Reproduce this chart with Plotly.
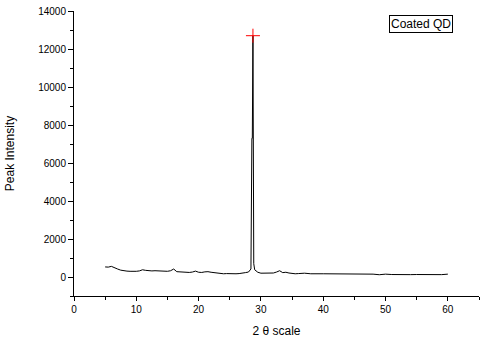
import plotly.graph_objects as go

two_theta = [5.0, 5.5, 6.0, 6.5, 7.0, 7.5, 8.0, 8.5, 9.0, 9.5, 10.0, 10.5, 11.0, 11.5, 12.0,
             12.5, 13.0, 13.5, 14.0, 14.5, 15.0, 15.5, 16.0, 16.5, 17.0, 17.5, 18.0, 18.5,
             19.0, 19.5, 20.0, 20.5, 21.0, 21.5, 22.0, 22.5, 23.0, 23.5, 24.0, 24.5, 25.0,
             25.5, 26.0, 26.5, 27.0, 27.5, 28.0, 28.4, 28.55, 28.62, 28.72, 28.85, 29.0, 29.5,
             30.0, 30.5, 31.0, 31.5, 32.0, 32.5, 33.0, 33.5, 34.0, 34.5, 35.0, 35.5, 36.0,
             37.0, 38.0, 38.5, 39.0, 40.0, 41.0, 42.0, 43.0, 44.0, 45.0, 46.0, 47.0, 48.0,
             49.0, 50.0, 51.0, 52.0, 53.0, 54.0, 55.0, 56.0, 57.0, 58.0, 59.0, 60.0]
intensity = [530, 520, 560, 470, 420, 360, 320, 310, 300, 290, 300, 320, 380, 350, 330,
             320, 330, 320, 310, 330, 300, 330, 420, 280, 270, 250, 250, 240, 260, 310,
             250, 240, 270, 280, 250, 230, 180, 190, 170, 180, 170, 190, 170, 180, 190,
             230, 260, 420, 7300, 7300, 12700, 700, 380, 250, 200, 210, 200, 220, 210,
             260, 330, 230, 250, 210, 180, 170, 180, 200, 170, 180, 170, 170, 170, 170,
             170, 175, 170, 165, 160, 150, 120, 150, 130, 140, 130, 125, 130, 120, 115,
             130, 125, 150]
peak_x = [28.72]
peak_y = [12700]
y_ticks = [0, 2000, 4000, 6000, 8000, 10000, 12000, 14000]
x_ticks = [0, 10, 20, 30, 40, 50, 60]
legend_label = "Coated QD"

fig = go.Figure()
fig.add_trace(go.Scatter(x=two_theta, y=intensity, mode="lines",
                         line=dict(color="black", width=1), showlegend=False))
fig.add_trace(go.Scatter(x=peak_x, y=peak_y, mode="markers",
                         marker=dict(symbol="cross-thin", size=10,
                                     line=dict(color="#ff0000", width=1)),
                         showlegend=False))

font = "Liberation Sans, Arial, sans-serif"
fig.update_layout(
    width=484, height=350,
    margin=dict(l=74, r=5, t=11, b=54),
    paper_bgcolor="white", plot_bgcolor="white",
    font=dict(family=font, size=10, color="black"),
    xaxis=dict(range=[0, 65], tickvals=x_ticks, ticktext=[str(v) for v in x_ticks],
               showgrid=False, zeroline=False, showline=True, linecolor="black",
               linewidth=1, ticks="outside", ticklen=4, tickcolor="black",
               minor=dict(dtick=5, ticks="outside", ticklen=3, tickcolor="black"),
               title=dict(text="2 θ scale", font=dict(size=12), standoff=12)),
    yaxis=dict(range=[-1000, 14000], tickvals=y_ticks, ticktext=[str(v) for v in y_ticks],
               showgrid=False, zeroline=False, showline=True, linecolor="black",
               linewidth=1, ticks="outside", ticklen=5, tickcolor="black",
               minor=dict(dtick=1000, tick0=0, ticks="outside", ticklen=3, tickcolor="black"),
               title=dict(text="Peak Intensity", font=dict(size=12), standoff=20)),
    annotations=[dict(x=0.935, y=0.985, xref="paper", yref="paper", xanchor="right",
                      yanchor="top", text=legend_label, showarrow=False,
                      font=dict(size=12, family=font), bordercolor="black",
                      borderwidth=1, borderpad=1, bgcolor="white")],
)
fig.write_html("out.html")
